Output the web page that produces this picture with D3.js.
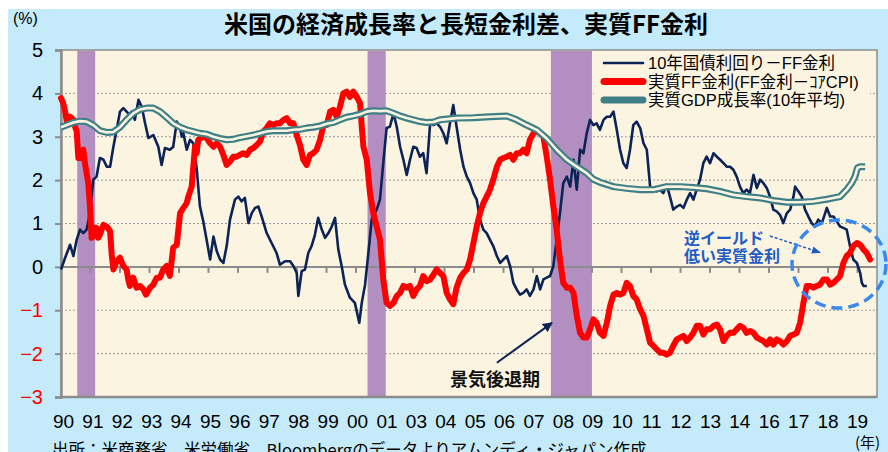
<!DOCTYPE html>
<html>
<head>
<meta charset="utf-8">
<script src="https://cdn.jsdelivr.net/npm/d3@7"></script>
<style>
  body { margin: 0; background: #ffffff; }
  svg { display: block; }
</style>
</head>
<body>
<div id="chart"></div>
<script>
// x axis labels (evenly spaced, as in the original category axis)
var tickLabels = ["90","91","92","93","94","95","96","97","98","99","00","01","03","04",
                  "05","06","07","08","09","10","11","12","13","14","16","17","18","19"];
var yTicks = [5, 4, 3, 2, 1, 0, -1, -2, -3];

// recession periods (decimal years)
var recessions = [[1990.59, 1991.24], [2001.12, 2001.78], [2007.77, 2009.26]];

// 10年国債利回り－FF金利  [year, %]
var spread = [
  [1990.00,-0.06],[1990.15,0.21],[1990.33,0.51],[1990.45,0.25],[1990.57,0.63],[1990.69,0.86],
  [1990.81,0.78],[1990.93,0.86],[1991.05,1.24],[1991.17,2.01],[1991.29,2.08],[1991.41,2.51],
  [1991.54,2.47],[1991.66,2.31],[1991.78,2.31],[1991.90,2.77],[1992.02,3.16],[1992.14,3.58],
  [1992.26,3.66],[1992.38,3.58],[1992.50,3.50],[1992.56,3.58],[1992.68,3.39],[1992.81,3.85],
  [1992.93,3.69],[1993.05,3.31],[1993.17,2.97],[1993.35,3.04],[1993.53,2.77],[1993.65,2.35],
  [1993.77,2.74],[1993.95,2.70],[1994.07,2.77],[1994.20,3.35],[1994.32,3.20],[1994.38,3.00],
  [1994.44,3.08],[1994.56,2.70],[1994.68,2.93],[1994.80,2.85],[1994.92,2.28],[1995.04,1.39],
  [1995.16,1.05],[1995.28,0.63],[1995.41,0.17],[1995.53,0.70],[1995.65,0.36],[1995.77,0.17],
  [1995.89,0.09],[1996.01,0.48],[1996.13,1.09],[1996.31,1.55],[1996.43,1.62],[1996.55,1.51],
  [1996.67,1.59],[1996.80,1.01],[1996.92,1.24],[1997.04,1.36],[1997.16,1.39],[1997.28,1.16],
  [1997.46,0.78],[1997.64,0.55],[1997.82,0.32],[1997.94,0.05],[1998.13,0.13],[1998.31,0.13],
  [1998.43,0.02],[1998.55,-0.14],[1998.61,-0.67],[1998.73,-0.10],[1998.85,-0.06],[1998.97,0.32],
  [1999.09,0.48],[1999.21,0.74],[1999.33,1.13],[1999.46,0.86],[1999.58,0.67],[1999.70,0.78],
  [1999.82,0.93],[1999.94,1.13],[2000.06,0.40],[2000.18,0.02],[2000.30,-0.41],[2000.48,-0.71],
  [2000.66,-0.83],[2000.82,-1.29],[2000.91,-0.83],[2001.03,-0.41],[2001.15,0.32],[2001.27,1.09],
  [2001.45,1.32],[2001.57,1.55],[2001.69,2.39],[2001.81,3.20],[2001.93,3.23],[2002.06,3.54],
  [2002.18,3.23],[2002.30,2.77],[2002.42,2.47],[2002.54,2.12],[2002.66,2.47],[2002.78,2.77],
  [2002.90,2.74],[2003.02,2.54],[2003.14,2.62],[2003.26,2.16],[2003.39,3.31],[2003.51,3.27],
  [2003.63,3.31],[2003.75,3.23],[2003.87,3.08],[2003.99,2.85],[2004.11,3.31],[2004.23,3.73],
  [2004.35,3.23],[2004.48,2.70],[2004.60,2.31],[2004.72,2.08],[2004.84,1.93],[2004.96,1.70],
  [2005.08,1.55],[2005.20,1.09],[2005.32,0.86],[2005.44,0.78],[2005.56,0.63],[2005.68,0.48],
  [2005.81,0.25],[2005.93,0.09],[2006.05,0.17],[2006.17,0.25],[2006.29,0.02],[2006.41,-0.37],
  [2006.53,-0.52],[2006.65,-0.64],[2006.77,-0.60],[2006.89,-0.52],[2007.01,-0.67],[2007.14,-0.52],
  [2007.26,-0.21],[2007.38,-0.52],[2007.50,-0.29],[2007.62,-0.25],[2007.74,-0.21],[2007.86,0.02],
  [2007.98,0.63],[2008.10,1.24],[2008.22,1.93],[2008.35,2.08],[2008.47,1.85],[2008.59,2.47],
  [2008.71,1.78],[2008.83,2.70],[2008.95,2.62],[2009.07,3.08],[2009.19,3.39],[2009.31,3.27],
  [2009.43,3.31],[2009.55,3.16],[2009.68,3.39],[2009.80,3.46],[2009.92,3.46],[2010.04,3.58],
  [2010.16,3.16],[2010.28,2.70],[2010.40,2.39],[2010.52,2.28],[2010.64,2.70],[2010.76,3.27],
  [2010.88,3.35],[2011.01,3.20],[2011.13,2.85],[2011.25,2.70],[2011.37,1.85],[2011.49,1.78],
  [2011.61,1.74],[2011.73,1.78],[2011.85,1.70],[2011.97,1.89],[2012.09,1.62],[2012.21,1.32],
  [2012.34,1.39],[2012.46,1.43],[2012.58,1.36],[2012.70,1.55],[2012.82,1.70],[2012.94,1.55],
  [2013.06,1.78],[2013.18,2.01],[2013.30,2.39],[2013.42,2.54],[2013.54,2.39],[2013.67,2.62],
  [2013.79,2.54],[2013.91,2.47],[2014.03,2.39],[2014.15,2.31],[2014.27,2.31],[2014.39,2.24],
  [2014.51,2.08],[2014.63,1.85],[2014.75,1.70],[2014.87,1.78],[2014.99,1.70],[2015.12,2.12],
  [2015.24,1.82],[2015.36,2.01],[2015.48,1.93],[2015.60,1.82],[2015.72,1.62],[2015.84,1.32],
  [2015.96,1.28],[2016.08,1.20],[2016.20,1.01],[2016.33,1.24],[2016.45,1.32],[2016.57,1.62],
  [2016.63,1.85],[2016.75,1.74],[2016.87,1.62],[2016.99,1.32],[2017.11,1.16],[2017.23,1.01],
  [2017.35,0.93],[2017.47,1.09],[2017.60,1.01],[2017.72,1.24],[2017.78,1.36],[2017.90,1.16],
  [2018.02,1.16],[2018.14,1.05],[2018.26,0.93],[2018.38,0.90],[2018.50,0.86],[2018.62,0.48],
  [2018.74,0.17],[2018.87,0.09],[2018.99,-0.14],[2019.05,-0.37],[2019.11,-0.44],[2019.23,-0.44]
];

// 実質FF金利(FF金利－ｺｱCPI)  [year, %]
var realFF = [
  [1990.00,3.89],[1990.08,3.77],[1990.15,3.58],[1990.21,3.35],[1990.27,3.46],[1990.33,3.46],
  [1990.45,3.39],[1990.51,3.23],[1990.57,3.12],[1990.63,2.51],[1990.75,2.51],[1990.81,2.70],
  [1990.87,2.39],[1990.99,1.93],[1991.05,1.39],[1991.11,0.67],[1991.17,0.70],[1991.23,0.90],
  [1991.29,0.90],[1991.35,0.67],[1991.41,0.74],[1991.54,0.97],[1991.66,0.93],[1991.78,0.82],
  [1991.84,0.28],[1991.90,-0.06],[1992.02,0.13],[1992.14,0.21],[1992.26,0.02],[1992.38,-0.06],
  [1992.44,-0.29],[1992.50,-0.44],[1992.62,-0.25],[1992.74,-0.48],[1992.87,-0.44],[1992.99,-0.52],
  [1993.08,-0.64],[1993.23,-0.48],[1993.35,-0.41],[1993.47,-0.25],[1993.59,-0.25],[1993.71,-0.06],
  [1993.83,0.02],[1993.95,-0.21],[1994.07,0.44],[1994.20,0.51],[1994.32,1.24],[1994.44,1.36],
  [1994.56,1.47],[1994.62,1.62],[1994.74,1.85],[1994.80,2.31],[1994.86,2.77],[1994.92,2.62],
  [1994.98,2.93],[1995.16,3.00],[1995.28,2.97],[1995.41,2.85],[1995.53,2.77],[1995.65,2.85],
  [1995.77,2.77],[1995.89,2.58],[1996.01,2.35],[1996.13,2.43],[1996.25,2.54],[1996.37,2.54],
  [1996.49,2.58],[1996.61,2.62],[1996.74,2.58],[1996.86,2.70],[1996.98,2.74],[1997.10,2.81],
  [1997.22,2.89],[1997.34,3.12],[1997.46,3.20],[1997.58,3.31],[1997.70,3.27],[1997.82,3.31],
  [1997.94,3.31],[1998.07,3.39],[1998.19,3.43],[1998.31,3.31],[1998.43,3.31],[1998.55,3.04],
  [1998.67,2.81],[1998.79,2.47],[1998.91,2.35],[1999.03,2.58],[1999.15,2.62],[1999.27,2.70],
  [1999.40,2.93],[1999.52,3.27],[1999.64,3.27],[1999.76,3.58],[1999.88,3.62],[2000.00,3.46],
  [2000.12,3.69],[2000.24,4.00],[2000.36,4.04],[2000.48,3.92],[2000.60,4.04],[2000.73,3.92],
  [2000.85,3.77],[2000.91,3.23],[2000.97,2.77],[2001.09,2.47],[2001.21,1.70],[2001.33,1.24],
  [2001.45,0.93],[2001.57,0.63],[2001.69,-0.29],[2001.81,-0.83],[2001.93,-0.90],[2002.06,-0.83],
  [2002.18,-0.67],[2002.30,-0.60],[2002.42,-0.44],[2002.54,-0.48],[2002.66,-0.44],[2002.78,-0.67],
  [2002.90,-0.52],[2003.02,-0.44],[2003.14,-0.21],[2003.26,-0.33],[2003.39,-0.29],[2003.51,-0.18],
  [2003.63,-0.06],[2003.75,-0.14],[2003.87,-0.21],[2003.99,-0.60],[2004.11,-0.75],[2004.23,-0.86],
  [2004.35,-0.48],[2004.48,-0.25],[2004.60,-0.14],[2004.72,-0.06],[2004.84,0.17],[2004.96,0.55],
  [2005.08,0.93],[2005.20,1.24],[2005.32,1.47],[2005.44,1.62],[2005.56,1.78],[2005.68,2.01],
  [2005.81,2.31],[2005.93,2.47],[2006.05,2.51],[2006.17,2.54],[2006.29,2.58],[2006.41,2.47],
  [2006.53,2.62],[2006.65,2.62],[2006.77,2.70],[2006.89,2.62],[2007.01,2.93],[2007.14,3.08],
  [2007.26,3.12],[2007.38,3.08],[2007.50,3.00],[2007.62,2.54],[2007.74,2.01],[2007.86,1.39],
  [2007.98,0.86],[2008.10,0.17],[2008.22,-0.37],[2008.35,-0.48],[2008.47,-0.48],[2008.59,-0.60],
  [2008.71,-1.13],[2008.83,-1.52],[2008.95,-1.63],[2009.07,-1.63],[2009.19,-1.44],[2009.31,-1.21],
  [2009.43,-1.29],[2009.55,-1.52],[2009.68,-1.59],[2009.80,-1.29],[2009.92,-0.90],[2010.04,-0.64],
  [2010.16,-0.60],[2010.28,-0.64],[2010.40,-0.60],[2010.52,-0.37],[2010.64,-0.44],[2010.76,-0.67],
  [2010.88,-0.75],[2011.01,-0.98],[2011.13,-1.13],[2011.25,-1.44],[2011.37,-1.75],[2011.49,-1.82],
  [2011.61,-1.90],[2011.73,-1.98],[2011.85,-1.98],[2011.97,-2.02],[2012.09,-1.98],[2012.21,-1.82],
  [2012.34,-1.67],[2012.46,-1.63],[2012.58,-1.59],[2012.70,-1.71],[2012.82,-1.63],[2012.94,-1.52],
  [2013.06,-1.36],[2013.18,-1.36],[2013.30,-1.56],[2013.42,-1.44],[2013.54,-1.44],[2013.67,-1.36],
  [2013.79,-1.33],[2013.91,-1.44],[2014.03,-1.71],[2014.15,-1.59],[2014.27,-1.52],[2014.39,-1.52],
  [2014.51,-1.44],[2014.63,-1.36],[2014.75,-1.40],[2014.87,-1.52],[2014.99,-1.48],[2015.12,-1.52],
  [2015.24,-1.63],[2015.36,-1.67],[2015.48,-1.71],[2015.60,-1.79],[2015.72,-1.67],[2015.84,-1.79],
  [2015.96,-1.67],[2016.08,-1.71],[2016.20,-1.79],[2016.33,-1.71],[2016.45,-1.59],[2016.57,-1.56],
  [2016.69,-1.52],[2016.81,-1.29],[2016.93,-0.83],[2017.05,-0.44],[2017.17,-0.44],[2017.29,-0.48],
  [2017.41,-0.44],[2017.53,-0.41],[2017.66,-0.29],[2017.78,-0.29],[2017.90,-0.41],[2018.02,-0.37],
  [2018.14,-0.29],[2018.26,-0.21],[2018.38,0.09],[2018.50,0.25],[2018.62,0.32],[2018.74,0.48],
  [2018.87,0.55],[2018.99,0.51],[2019.11,0.40],[2019.23,0.32],[2019.35,0.17]
];

// 実質GDP成長率(10年平均)  [year, %]
var realGDP = [
  [1990.00,3.22],[1990.21,3.27],[1990.45,3.33],[1990.69,3.36],[1990.93,3.35],[1991.17,3.27],
  [1991.41,3.14],[1991.66,3.10],[1991.90,3.11],[1992.14,3.22],[1992.38,3.39],[1992.62,3.54],
  [1992.87,3.63],[1993.11,3.66],[1993.35,3.66],[1993.59,3.58],[1993.83,3.45],[1994.07,3.31],
  [1994.32,3.22],[1994.56,3.16],[1994.80,3.12],[1995.04,3.08],[1995.28,3.06],[1995.53,3.00],
  [1995.77,2.96],[1996.01,2.93],[1996.25,2.94],[1996.49,2.98],[1996.74,3.01],[1996.98,3.04],
  [1997.22,3.08],[1997.46,3.12],[1997.70,3.14],[1997.94,3.14],[1998.19,3.14],[1998.43,3.16],
  [1998.67,3.17],[1998.91,3.20],[1999.15,3.22],[1999.40,3.25],[1999.64,3.30],[1999.88,3.33],
  [2000.12,3.39],[2000.36,3.45],[2000.60,3.48],[2000.85,3.52],[2001.09,3.58],[2001.33,3.60],
  [2001.57,3.59],[2001.81,3.60],[2002.06,3.54],[2002.30,3.48],[2002.54,3.43],[2002.78,3.39],
  [2003.02,3.35],[2003.26,3.33],[2003.51,3.34],[2003.75,3.39],[2004.35,3.43],[2004.96,3.44],
  [2005.56,3.46],[2006.17,3.48],[2006.53,3.39],[2006.89,3.27],[2007.26,3.16],[2007.62,2.96],
  [2007.98,2.70],[2008.35,2.47],[2008.71,2.31],[2009.07,2.16],[2009.31,2.02],[2009.55,1.95],
  [2010.04,1.85],[2010.52,1.81],[2011.01,1.78],[2011.49,1.78],[2011.97,1.85],[2012.46,1.85],
  [2012.94,1.83],[2013.42,1.80],[2013.91,1.74],[2014.39,1.66],[2014.87,1.62],[2015.36,1.59],
  [2015.84,1.53],[2016.33,1.49],[2016.81,1.49],[2017.29,1.51],[2017.78,1.56],[2018.26,1.62],
  [2018.50,1.78],[2018.68,1.93],[2018.80,2.08],[2018.89,2.28],[2018.99,2.31],[2019.17,2.31]
];

var seriesNames = ["10年国債利回り－FF金利", "実質FF金利(FF金利－ｺｱCPI)", "実質GDP成長率(10年平均)"];

var W = 888, H = 452;
var pL = 61, pR = 877, pT = 50, pB = 397;
var cjk = "'Noto Sans CJK JP', sans-serif";
var latin = "'Liberation Sans', Arial, sans-serif";
var mixed = "'Liberation Sans', 'Noto Sans CJK JP', sans-serif";
var plotBg = "#fbf4e1";

var svg = d3.select("#chart").append("svg")
    .attr("width", W)
    .attr("height", H);

// outer background
svg.append("rect")
    .attr("x", 8).attr("y", 9)
    .attr("width", W - 8).attr("height", H - 9)
    .attr("fill", "#c5ebfa");

var x = d3.scaleLinear().domain([1990, 2019.6]).range([pL, pR]);
var y = d3.scaleLinear().domain([-3, 5]).range([pB, pT]);
// category positions used by the labels / ticks of the original axis
var xLab = d3.scalePoint().domain(tickLabels).range([63.5, 857.5]);
var xCat = d3.scaleLinear().domain([0, 27.66]).range([pL, pR]);

// plot area
svg.append("rect")
    .attr("x", pL).attr("y", pT)
    .attr("width", pR - pL).attr("height", pB - pT)
    .attr("fill", plotBg)
    .attr("stroke", "#8c8c8c").attr("stroke-width", 1.5);

// dotted grid lines
svg.append("g").selectAll("line")
    .data(yTicks.filter(function (d) { return d !== 0 && d !== 5 && d !== -3; }))
    .enter().append("line")
    .attr("x1", pL).attr("x2", pR)
    .attr("y1", function (d) { return y(d); })
    .attr("y2", function (d) { return y(d); })
    .attr("stroke", "#9a9a9a")
    .attr("stroke-width", 1)
    .attr("stroke-dasharray", "2,2");

// recession bands
svg.append("g").selectAll("rect")
    .data(recessions)
    .enter().append("rect")
    .attr("x", function (d) { return x(d[0]); })
    .attr("width", function (d) { return x(d[1]) - x(d[0]); })
    .attr("y", pT + 1).attr("height", pB - pT - 1)
    .attr("fill", "#b28fc0");

// zero line with ticks
svg.append("line")
    .attr("x1", pL).attr("x2", pR)
    .attr("y1", y(0)).attr("y2", y(0))
    .attr("stroke", "#8c8c8c").attr("stroke-width", 2);
svg.append("g").selectAll("line")
    .data(d3.range(1, 28))
    .enter().append("line")
    .attr("x1", function (d) { return xCat(d); })
    .attr("x2", function (d) { return xCat(d); })
    .attr("y1", y(0)).attr("y2", y(0) + 6)
    .attr("stroke", "#8c8c8c").attr("stroke-width", 2);

// y axis
var yAxis = d3.axisLeft(y).tickValues(yTicks).tickSize(6).tickPadding(12);
var gy = svg.append("g")
    .attr("transform", "translate(" + pL + ",0)")
    .call(yAxis);
gy.select(".domain").attr("stroke", "#8c8c8c").attr("stroke-width", 2.5);
gy.selectAll(".tick line").attr("stroke", "#8c8c8c").attr("stroke-width", 2);
gy.selectAll(".tick text")
    .attr("font-family", latin)
    .attr("font-size", 20)
    .attr("fill", function (d) { return d < 0 ? "#ff0000" : "#000000"; });
svg.append("line")
    .attr("x1", pL).attr("x2", pR)
    .attr("y1", pB).attr("y2", pB)
    .attr("stroke", "#8c8c8c").attr("stroke-width", 2.5);

// x labels
svg.append("g").selectAll("text")
    .data(tickLabels)
    .enter().append("text")
    .attr("x", function (d) { return xLab(d); })
    .attr("y", 428)
    .attr("text-anchor", "middle")
    .attr("font-family", latin)
    .attr("font-size", 19)
    .attr("fill", "#000")
    .text(function (d) { return d; });

// series
var line = d3.line()
    .x(function (d) { return x(d[0]); })
    .y(function (d) { return y(d[1]); });

svg.append("path")
    .datum(spread)
    .attr("d", line)
    .attr("fill", "none")
    .attr("stroke", "#0c2356")
    .attr("stroke-width", 2.6)
    .attr("stroke-linejoin", "round");

svg.append("path")
    .datum(realFF)
    .attr("d", line)
    .attr("fill", "none")
    .attr("stroke", "#ff0000")
    .attr("stroke-width", 6)
    .attr("stroke-linejoin", "round")
    .attr("stroke-linecap", "round");

svg.append("path")
    .datum(realGDP)
    .attr("d", line)
    .attr("fill", "none")
    .attr("stroke", "#3f7f86")
    .attr("stroke-width", 7)
    .attr("stroke-linejoin", "round");
svg.append("path")
    .datum(realGDP)
    .attr("d", line)
    .attr("fill", "none")
    .attr("stroke", plotBg)
    .attr("stroke-width", 2.6)
    .attr("stroke-linejoin", "round");

// legend
var lg = svg.append("g");
lg.append("rect")
    .attr("x", 594).attr("y", 52)
    .attr("width", 276).attr("height", 56)
    .attr("fill", plotBg);
var legendStyles = [
    { color: "#0c2356", width: 2.6 },
    { color: "#ff0000", width: 7 },
    { color: "#3f7f86", width: 7 }
];
seriesNames.forEach(function (name, i) {
    var ly = 63 + i * 18.5;
    lg.append("line")
        .attr("x1", 604).attr("x2", 643)
        .attr("y1", ly).attr("y2", ly)
        .attr("stroke", legendStyles[i].color)
        .attr("stroke-width", legendStyles[i].width)
        .attr("stroke-linecap", "round");
    lg.append("text")
        .attr("x", 648).attr("y", ly + 6)
        .attr("font-family", mixed)
        .attr("font-size", 16.5)
        .attr("fill", "#000")
        .text(name);
});

// annotation: recession
var defs = svg.append("defs");
defs.append("marker")
    .attr("id", "headNavy")
    .attr("viewBox", "0 0 10 10")
    .attr("refX", 9).attr("refY", 5)
    .attr("markerWidth", 5).attr("markerHeight", 5)
    .attr("orient", "auto")
    .append("path").attr("d", "M0,0L10,5L0,10z").attr("fill", "#0c2356");
defs.append("marker")
    .attr("id", "headBlue")
    .attr("viewBox", "0 0 10 10")
    .attr("refX", 9).attr("refY", 5)
    .attr("markerWidth", 6).attr("markerHeight", 6)
    .attr("orient", "auto")
    .append("path").attr("d", "M0,1L10,5L0,9z").attr("fill", "#1f5cc4");

svg.append("line")
    .attr("x1", x(2005.81)).attr("y1", y(-2.21))
    .attr("x2", x(2007.81)).attr("y2", y(-1.29))
    .attr("stroke", "#0c2356").attr("stroke-width", 2)
    .attr("marker-end", "url(#headNavy)");
svg.append("text")
    .attr("x", x(2004.11)).attr("y", 386)
    .attr("font-family", cjk)
    .attr("font-weight", "bold")
    .attr("font-size", 18)
    .attr("fill", "#111")
    .text("景気後退期");

// annotation: inverted yield
svg.append("text")
    .attr("x", 684).attr("y", 244)
    .attr("font-family", cjk).attr("font-weight", "bold")
    .attr("font-size", 16).attr("fill", "#1f5cc4")
    .text("逆イールド");
svg.append("text")
    .attr("x", 684).attr("y", 262)
    .attr("font-family", cjk).attr("font-weight", "bold")
    .attr("font-size", 16).attr("fill", "#1f5cc4")
    .text("低い実質金利");
svg.append("line")
    .attr("x1", 770).attr("y1", 236)
    .attr("x2", 820).attr("y2", 252.5)
    .attr("stroke", "#1f5cc4").attr("stroke-width", 1.5)
    .attr("stroke-dasharray", "3,2")
    .attr("marker-end", "url(#headBlue)");
svg.append("ellipse")
    .attr("cx", 839).attr("cy", 264)
    .attr("rx", 47).attr("ry", 44)
    .attr("fill", "none")
    .attr("stroke", "#3a88ee").attr("stroke-width", 3.5)
    .attr("stroke-dasharray", "11,6");

// titles and notes
svg.append("text")
    .attr("x", 466).attr("y", 33)
    .attr("text-anchor", "middle")
    .attr("font-family", cjk).attr("font-weight", "bold")
    .attr("font-size", 24).attr("fill", "#000")
    .text("米国の経済成長率と長短金利差、実質FF金利");
svg.append("text")
    .attr("x", 13).attr("y", 24)
    .attr("font-family", latin)
    .attr("font-size", 16).attr("fill", "#000")
    .text("(%)");
svg.append("text")
    .attr("x", 52).attr("y", 456)
    .attr("font-family", cjk)
    .attr("font-size", 16.5).attr("fill", "#000")
    .text("出所：米商務省、米労働省、Bloombergのデータよりアムンディ・ジャパン作成");
svg.append("text")
    .attr("x", 855).attr("y", 448)
    .attr("font-family", cjk)
    .attr("font-size", 15).attr("fill", "#000")
    .text("(年)");
</script>
</body>
</html>
